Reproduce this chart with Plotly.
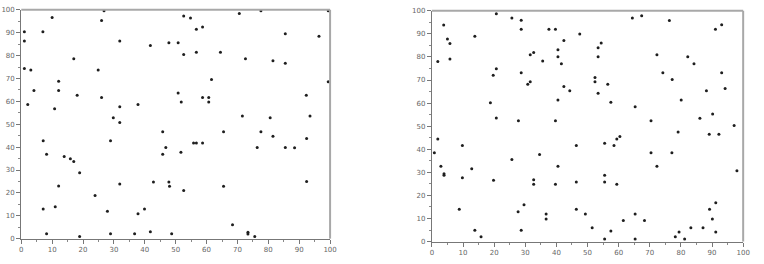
import plotly.graph_objects as go

# Left panel points
left_x = [1.0, 1.0, 10.0, 7.0, 26.8, 26.0, 31.9, 41.8, 47.8, 50.8, 17.0, 1.0, 3.1, 24.9,
          12.1, 4.1, 12.1, 18.1, 26.0, 50.8, 2.1, 10.8, 31.9, 37.8, 29.8, 31.9,
          52.6, 54.8, 70.6, 77.6, 99.4, 56.7, 58.7, 85.5, 96.4, 52.6, 56.7, 64.5, 72.6,
          81.5, 85.5, 61.6, 99.4, 51.8, 58.7, 60.7, 60.7, 92.3, 71.6, 80.6, 93.5,
          7.1, 8.2, 13.9, 15.9, 17.0, 18.9, 12.1, 28.9, 31.9, 23.9, 7.1, 11.0, 27.9,
          37.8, 39.9, 42.8, 48.0, 47.8, 45.8, 45.8, 46.8, 51.7, 8.2, 18.9, 28.9, 36.7,
          41.8, 48.7, 65.5, 77.6, 81.5, 55.8, 56.7, 58.7, 76.4, 85.5, 88.5, 92.4, 52.6,
          65.5, 92.4, 68.4, 73.4, 73.4, 75.6]
left_y = [90.4, 86.4, 96.6, 90.4, 99.6, 95.3, 86.4, 84.4, 85.6, 85.6, 78.6, 74.4, 73.7, 73.7,
          68.8, 64.7, 64.7, 62.7, 61.7, 63.7, 58.6, 56.8, 57.6, 58.6, 52.8, 50.8,
          97.3, 96.4, 98.4, 99.6, 99.6, 91.5, 92.5, 89.5, 88.4, 80.5, 81.5, 81.5, 78.6,
          77.7, 76.7, 69.5, 68.6, 59.7, 61.7, 61.7, 59.7, 62.7, 53.6, 52.8, 53.6,
          42.8, 36.9, 35.9, 34.9, 33.7, 28.8, 23.0, 42.8, 23.9, 18.9, 13.0, 14.0, 12.0,
          10.9, 13.0, 24.8, 22.9, 24.8, 46.7, 36.9, 39.8, 37.8, 2.1, 1.0, 2.1, 2.1,
          3.0, 2.1, 46.7, 46.7, 44.7, 41.8, 41.8, 41.8, 39.8, 39.8, 39.7, 43.8, 21.0,
          22.9, 25.0, 6.1, 2.8, 2.0, 1.0]

# Right panel points
right_x = [1.9, 3.8, 5.0, 5.8, 5.8, 13.8, 20.7, 25.7, 28.7, 28.7, 37.6, 39.7, 47.5, 42.4,
           40.5, 40.5, 41.6, 31.6, 32.7, 35.6, 20.7, 19.7, 28.7, 31.6, 30.8, 42.4, 44.3,
           40.5, 18.8, 20.7, 27.8, 39.7,
           64.4, 67.4, 76.3, 91.1, 93.1, 54.4, 53.4, 53.4, 72.3, 82.2, 84.2, 74.2, 77.2,
           93.1, 52.4, 52.4, 56.5, 53.4, 57.5, 65.3, 80.1, 88.2, 94.2, 70.4, 86.1, 90.2, 97.1,
           1.9, 0.8, 9.8, 2.9, 3.9, 3.9, 12.8, 9.8, 19.8, 25.7, 34.6, 40.5, 32.7, 32.7, 39.7,
           46.4, 46.4, 8.8, 29.6, 27.7, 36.7, 36.7, 46.4, 49.3, 13.8, 15.8, 28.7,
           55.5, 59.4, 60.4, 58.5, 79.1, 89.1, 92.2, 70.4, 77.1, 72.3, 98.0, 55.5, 55.5, 59.4,
           51.5, 57.5, 55.5, 65.3, 61.5, 68.3, 65.3, 78.2, 79.4, 81.2, 83.2, 87.1, 91.2, 89.2,
           90.1, 91.2]
right_y = [78.0, 93.8, 87.8, 85.8, 79.1, 89.0, 98.7, 96.9, 95.9, 92.0, 92.0, 92.0, 89.9, 87.1,
           83.1, 80.1, 77.0, 81.0, 81.9, 78.2, 74.9, 72.1, 73.2, 69.2, 68.2, 67.2, 65.3,
           61.3, 60.2, 53.5, 52.4, 52.4,
           96.9, 97.8, 95.8, 92.0, 94.0, 86.0, 84.0, 80.1, 81.0, 80.1, 77.0, 73.2, 70.2,
           73.2, 71.1, 69.2, 68.2, 64.3, 60.4, 58.4, 61.3, 65.3, 66.3, 52.4, 53.4, 55.3, 50.3,
           44.5, 38.5, 41.6, 32.6, 29.4, 28.7, 31.6, 27.7, 26.6, 35.6, 37.7, 32.6, 26.8, 24.8, 24.8,
           41.6, 25.8, 14.0, 16.0, 12.9, 11.9, 9.8, 14.0, 11.9, 4.9, 2.1, 4.9,
           42.6, 44.5, 45.5, 41.6, 47.5, 46.5, 46.5, 38.5, 38.5, 32.6, 30.7, 28.7, 25.8, 24.8,
           6.0, 4.6, 1.1, 11.9, 9.1, 9.1, 1.1, 2.1, 4.2, 1.1, 6.0, 6.0, 16.8, 14.0,
           9.8, 4.2]

tick_vals = [0, 10, 20, 30, 40, 50, 60, 70, 80, 90, 100]
tick_text = [str(v) for v in tick_vals]

marker = dict(symbol="circle", size=3, color="#1e1e1e", line=dict(width=0))

fig = go.Figure()
fig.add_trace(go.Scatter(x=left_x, y=left_y, mode="markers", marker=marker,
                         xaxis="x", yaxis="y", showlegend=False, hoverinfo="skip",
                         cliponaxis=False))
fig.add_trace(go.Scatter(x=right_x, y=right_y, mode="markers", marker=marker,
                         xaxis="x2", yaxis="y2", showlegend=False, hoverinfo="skip",
                         cliponaxis=False))

ax_common = dict(
    range=[0, 100], tickvals=tick_vals, ticktext=tick_text,
    showgrid=False, zeroline=False, showline=True, linecolor="#777", linewidth=1.2,
    mirror=False, ticks="outside", ticklen=4, tickwidth=1, tickcolor="#777",
    tickfont=dict(family="DejaVu Sans", size=7, color="#666"),
    minor=dict(ticks="outside", ticklen=2, tickcolor="#888", dtick=5, showgrid=False),
    fixedrange=True,
)

fig.update_layout(
    width=764, height=264, autosize=False,
    margin=dict(l=0, r=0, t=0, b=0),
    paper_bgcolor="white", plot_bgcolor="white",
    xaxis=dict(domain=[19.5 / 764, 332 / 764], anchor="y", **ax_common),
    yaxis=dict(domain=[(264 - 242) / 264, (264 - 6) / 264], anchor="x", **ax_common),
    xaxis2=dict(domain=[435 / 764, 750 / 764], anchor="y2", **ax_common),
    yaxis2=dict(domain=[(264 - 245) / 264, (264 - 7) / 264], anchor="x2", **ax_common),
)

# light grey frame on top and right of each panel
for xr, yr in (("x", "y"), ("x2", "y2")):
    fig.add_shape(type="line", xref=f"{xr} domain", yref=f"{yr} domain",
                  x0=0, x1=1, y0=1, y1=1, line=dict(color="#a8a8a8", width=2))
    fig.add_shape(type="line", xref=f"{xr} domain", yref=f"{yr} domain",
                  x0=1, x1=1, y0=0, y1=1, line=dict(color="#a8a8a8", width=2))

fig.write_html("out.html")
